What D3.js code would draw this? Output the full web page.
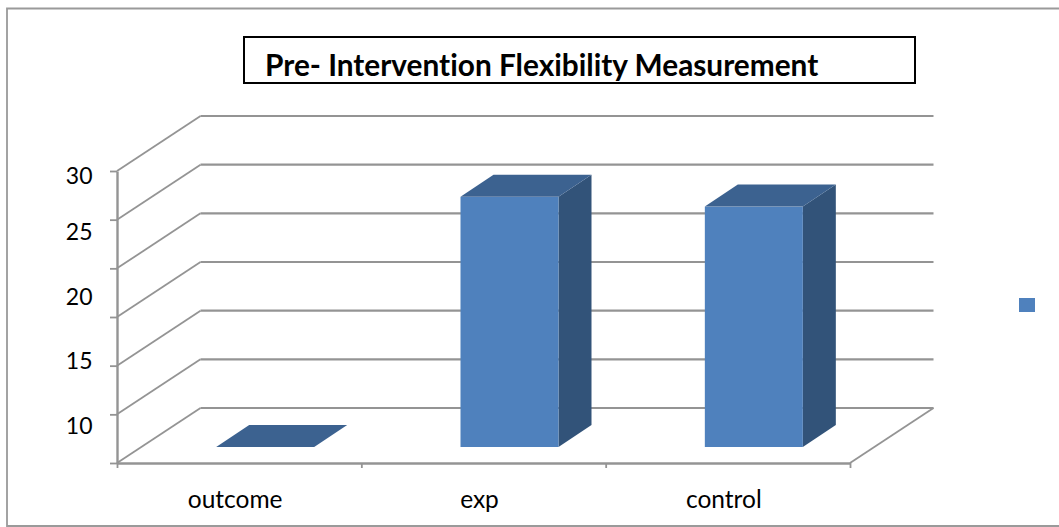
<!DOCTYPE html>
<html>
<head>
<meta charset="utf-8">
<script src="https://cdn.jsdelivr.net/npm/d3@7/dist/d3.min.js"></script>
<style>
html,body{margin:0;padding:0;background:#fff;}
svg{display:block;}
text{font-family:Lato,"Open Sans",sans-serif;fill:#000;font-variant-ligatures:none;}
</style>
</head>
<body>
<svg id="chart" width="1059" height="527"></svg>
<script>
const chartTitle = "Pre- Intervention Flexibility Measurement";
const categories = ["outcome", "exp", "control"];
const values = [0, 25.7, 24.7];
const gridValues = [0, 5, 10, 15, 20, 25, 30];
const yLabels = [10, 15, 20, 25, 30];

const svg = d3.select("#chart");
const gridColor = "#949494";
const depth = {x: 83.5, y: -55};
const barDepth = {x: 33, y: -22};
const barOffset = {x: 26, y: -16};
const barWidth = 98;

const y = d3.scaleLinear().domain([0, 30]).range([463, 171]);
const x = d3.scaleBand().domain(categories).range([117, 850]);
const xEdges = d3.scaleLinear().domain([0, categories.length]).range([117, 850]);
const yLabelPos = d3.scaleLinear().domain([10, 25, 30]).range([425, 231, 175]);

// Outer frame, open on the right
svg.append("path")
  .attr("d", d3.line()([[1059, 8.5], [7, 8.5], [7, 526], [1059, 526]]))
  .attr("fill", "none").attr("stroke", "#9a9a9a").attr("stroke-width", 1.8);

// Back wall gridlines
svg.append("g").selectAll("line").data(gridValues).join("line")
  .attr("x1", x.range()[0] + depth.x).attr("x2", x.range()[1] + depth.x)
  .attr("y1", d => y(d) + depth.y).attr("y2", d => y(d) + depth.y)
  .attr("stroke", gridColor).attr("stroke-width", 2.2);

// Side wall gridlines
svg.append("g").selectAll("line").data(gridValues).join("line")
  .attr("x1", x.range()[0]).attr("x2", x.range()[0] + depth.x)
  .attr("y1", d => y(d)).attr("y2", d => y(d) + depth.y)
  .attr("stroke", gridColor).attr("stroke-width", 1.8);

// Floor right edge
svg.append("line")
  .attr("x1", x.range()[1]).attr("y1", y(0))
  .attr("x2", x.range()[1] + depth.x).attr("y2", y(0) + depth.y)
  .attr("stroke", gridColor).attr("stroke-width", 1.8);

// Axes
const axisY = svg.append("g").attr("transform", "translate(117,0)")
  .call(d3.axisLeft(y).tickValues(gridValues).tickFormat("").tickSize(7).tickSizeOuter(0));
const axisX = svg.append("g").attr("transform", "translate(0,463)")
  .call(d3.axisBottom(xEdges).ticks(categories.length).tickFormat("").tickSize(5).tickSizeOuter(0));
[axisY, axisX].forEach(a => {
  a.select(".domain").attr("stroke", gridColor).attr("stroke-width", 2.4);
  a.selectAll(".tick line").attr("stroke", gridColor).attr("stroke-width", 1.8);
});

// Bars
const barX = d => x(d) + (x.bandwidth() - barWidth) / 2 + barOffset.x;
const barTop = v => y(v) + barOffset.y;
const barBase = y(0) + barOffset.y;
const bars = svg.append("g").selectAll("g").data(categories).join("g");
const poly = d3.line();

bars.append("path").attr("fill", "#325379")
  .attr("d", (d, i) => {
    const r = barX(d) + barWidth, t = barTop(values[i]);
    return poly([[r, t], [r + barDepth.x, t + barDepth.y], [r + barDepth.x, barBase + barDepth.y], [r, barBase]]) + "Z";
  });
bars.append("rect").attr("fill", "#4F81BD")
  .attr("x", d => barX(d)).attr("width", barWidth)
  .attr("y", (d, i) => barTop(values[i]))
  .attr("height", (d, i) => barBase - barTop(values[i]));
bars.append("path").attr("fill", "#3C6290")
  .attr("d", (d, i) => {
    const l = barX(d), t = barTop(values[i]);
    return poly([[l, t], [l + barDepth.x, t + barDepth.y], [l + barWidth + barDepth.x, t + barDepth.y], [l + barWidth, t]]) + "Z";
  });

// Y labels
svg.append("g").selectAll("text").data(yLabels).join("text")
  .attr("x", 92.5).attr("y", d => yLabelPos(d))
  .attr("text-anchor", "end").attr("dominant-baseline", "central")
  .attr("font-size", 23).text(d => d);

// Category labels
svg.append("g").selectAll("text").data(categories).join("text")
  .attr("x", d => x(d) + x.bandwidth() / 2 - 4).attr("y", 508)
  .attr("text-anchor", "middle")
  .attr("font-size", 24.5).text(d => d);

// Title box
svg.append("rect").attr("x", 244).attr("y", 37).attr("width", 671).attr("height", 46)
  .attr("fill", "#fff").attr("stroke", "#000").attr("stroke-width", 2);
svg.append("text").attr("x", 265).attr("y", 76)
  .attr("font-size", 29.8).attr("font-weight", 700).text(chartTitle);

// Legend key (no label)
svg.append("rect").attr("x", 1019).attr("y", 298).attr("width", 16).attr("height", 14).attr("fill", "#4F81BD");
</script>
</body>
</html>
